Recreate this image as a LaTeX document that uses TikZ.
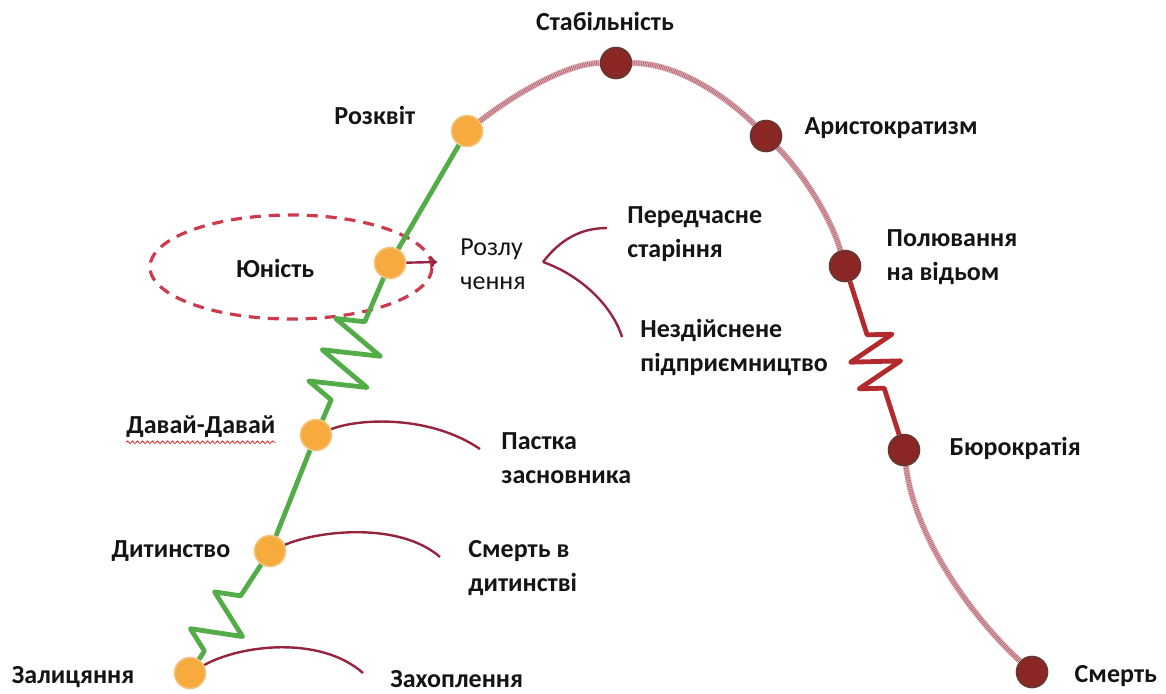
\documentclass[tikz,border=0pt]{standalone}
\usepackage{fontspec}
\setmainfont{Carlito}
\usepackage{tikz}
\usepackage{xcolor}
\usetikzlibrary{shapes,arrows,positioning,calc,decorations.pathmorphing}

\definecolor{youngfill}{RGB}{247,170,62}
\definecolor{youngrim}{RGB}{242,196,126}
\definecolor{oldfill}{RGB}{138,38,36}
\definecolor{oldrim}{RGB}{100,56,50}
\definecolor{growgreen}{RGB}{82,172,72}
\definecolor{fallred}{RGB}{178,42,44}
\definecolor{trapred}{RGB}{150,36,62}
\definecolor{ringred}{RGB}{204,58,78}
\definecolor{agepink}{RGB}{224,178,184}
\definecolor{agepinkdark}{RGB}{176,96,110}
\definecolor{typored}{RGB}{222,40,40}
\definecolor{labelink}{RGB}{20,20,20}

\begin{document}
\begin{tikzpicture}[x=0.5pt, y=-0.5pt, node distance=12pt,
    young/.style={circle, minimum size=15.5pt, inner sep=0pt, line width=0.8pt, draw=youngrim, fill=youngfill},
    old/.style={circle, minimum size=15.5pt, inner sep=0pt, line width=0.8pt, draw=oldrim, fill=oldfill},
    stage/.style={font=\fontsize{13}{17}\selectfont\bfseries, text=labelink, inner sep=0pt, align=left},
    growline/.style={draw=growgreen, line width=2.4pt, line join=round},
    fallline/.style={draw=fallred, line width=2.4pt, line join=round},
    declineline/.style={draw=agepink, line width=3pt, postaction={draw=agepinkdark, line width=2.4pt, dash pattern=on 0.35pt off 0.55pt}},
    trapline/.style={draw=trapred, line width=1.2pt},
    ringline/.style={draw=ringred, line width=1.6pt, dash pattern=on 5.5pt off 4pt},
    typoline/.style={draw=typored, line width=0.4pt, decorate, decoration={snake, segment length=2.5pt, amplitude=0.7pt}}]
    \useasboundingbox (0,0) rectangle (1166,693);

    \draw[ringline] (291,267) ellipse [x radius=70.5pt, y radius=26pt];

    \node[young] (zal) at (190,673) {};
    \node[young] (dyt) at (270,551) {};
    \node[young] (dav) at (316,435) {};
    \node[young] (yun) at (390,263) {};
    \node[young] (ros) at (467,131) {};
    \node[old] (stab) at (616,63) {};
    \node[old] (ari) at (766,136) {};
    \node[old] (pol) at (845,266) {};
    \node[old] (bur) at (904,450) {};
    \node[old] (sme) at (1032,672) {};

    \node[stage, left=19.5pt of zal, yshift=-2pt] (zal-l) {Залицяння};
    \node[stage, left=11.5pt of dyt] (dyt-l) {Дитинство};
    \node[stage, left=12pt of dav, yshift=4pt] (dav-l) {Давай-Давай};
    \node[stage, left=29.5pt of yun, yshift=-2.5pt] (yun-l) {Юність};
    \node[stage, left=17.5pt of ros, yshift=8pt] (ros-l) {Розквіт};
    \node[stage, above=8pt of stab, xshift=-5.5pt] (stab-l) {Стабільність};
    \node[stage, right=11pt of ari, yshift=4pt] (ari-l) {Аристократизм};
    \node[stage, right=12.5pt of pol, yshift=4.5pt] (pol-l) {Полювання\\на відьом};
    \node[stage, right=14.5pt of bur, yshift=1pt] (bur-l) {Бюрократія};
    \node[stage, right=13pt of sme, yshift=-2pt] (sme-l) {Смерть};

    \coordinate (zal-e) at (363,673);
    \coordinate (dyt-e) at (440,557);
    \coordinate (dav-e) at (480,449);
    \coordinate (yun-e) at (437,262);
    \coordinate (roz-b) at (543,262);
    \coordinate (per-e) at (607,228);
    \coordinate (nez-e) at (622,337);

    \node[stage, right=13.5pt of zal-e, yshift=-3pt] (zah-l) {Захоплення};
    \node[stage, right=14pt of dyt-e, yshift=-5.5pt] (sdy-l) {Смерть в\\дитинстві};
    \node[stage, right=10.5pt of dav-e, yshift=-4.5pt] (pas-l) {Пастка\\засновника};
    \node[stage, right=11.5pt of yun-e, yshift=-1pt, font=\fontsize{13}{17}\selectfont] (roz-l) {Розлу\\чення};
    \node[stage, right=10pt of per-e, yshift=-3pt] (per-l) {Передчасне\\старіння};
    \node[stage, right=9pt of nez-e, yshift=-5pt] (nez-l) {Нездійснене\\підприємництво};

    \draw[growline, decorate, decoration={zigzag, segment length=22pt, amplitude=12pt, pre length=5pt, post length=8pt}] (zal) -- (dyt);
    \draw[growline] (dyt) -- (dav);
    \draw[growline, decorate, decoration={zigzag, segment length=17pt, amplitude=14pt, pre length=11pt, post length=23pt}] (dav) -- (yun);
    \draw[growline] (yun) -- (ros);
    \draw[declineline] (ros) .. controls (520,90) and (570,63) .. (stab);
    \draw[declineline] (stab) .. controls (680,63) and (730,100) .. (ari);
    \draw[declineline] (ari) .. controls (800,170) and (830,215) .. (pol);
    \draw[fallline, decorate, decoration={zigzag, segment length=14pt, amplitude=12pt, pre length=28pt, post length=19.5pt}] (pol) -- (bur);
    \draw[declineline] (bur) .. controls (915,540) and (975,620) .. (sme);

    \draw[trapline] (zal) .. controls (240,645) and (320,635) .. (zal-e);
    \draw[trapline] (dyt) .. controls (320,530) and (400,522) .. (dyt-e);
    \draw[trapline] (dav) .. controls (360,418) and (430,415) .. (dav-e);
    \draw[trapline, ->] (yun) -- (yun-e);
    \draw[trapline] (roz-b) .. controls (560,240) and (580,228) .. (per-e);
    \draw[trapline] (roz-b) .. controls (580,275) and (612,305) .. (nez-e);

    \draw[typoline] ([yshift=-2pt]dav-l.south west) -- ([yshift=-2pt]dav-l.south east);
\end{tikzpicture}
\end{document}
